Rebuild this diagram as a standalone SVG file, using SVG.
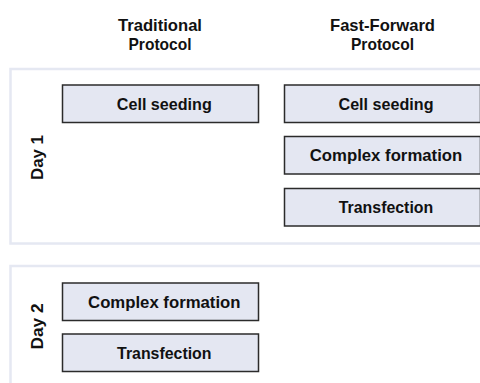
<svg xmlns="http://www.w3.org/2000/svg" width="480" height="383" viewBox="0 0 480 383">
  <style>
    .panel { fill: #ffffff; stroke: #e5e8f2; stroke-width: 2.5; }
    .step rect { fill: #e4e7f2; stroke: #2b2b2b; stroke-width: 1.5; }
    text { font-family: "Liberation Sans", Arial, sans-serif; font-weight: bold; font-size: 17px; fill: #111111; }
    .c { text-anchor: middle; }
  </style>
  <rect width="480" height="383" fill="#ffffff"/>

  <!-- column headings -->
  <g id="head-traditional">
    <text class="c" x="160" y="30.5" textLength="84" lengthAdjust="spacingAndGlyphs">Traditional</text>
    <text class="c" x="160" y="50" textLength="63" lengthAdjust="spacingAndGlyphs">Protocol</text>
  </g>
  <g id="head-fastforward">
    <text class="c" x="382.5" y="30.5" textLength="105" lengthAdjust="spacingAndGlyphs">Fast-Forward</text>
    <text class="c" x="382.5" y="50" textLength="63" lengthAdjust="spacingAndGlyphs">Protocol</text>
  </g>

  <!-- day panels -->
  <g id="day1">
    <rect class="panel" x="10.5" y="69" width="480" height="174.5"/>
    <text class="c" transform="translate(42.5,157.5) rotate(-90)" textLength="45" lengthAdjust="spacingAndGlyphs">Day 1</text>
  </g>
  <g id="day2">
    <rect class="panel" x="10.5" y="266" width="480" height="130"/>
    <text class="c" transform="translate(42.5,326.5) rotate(-90)" textLength="46" lengthAdjust="spacingAndGlyphs">Day 2</text>
  </g>

  <!-- traditional protocol steps -->
  <g id="trad-seeding" class="step">
    <rect x="62.5" y="85" width="196" height="37.5"/>
    <text class="c" x="164.3" y="109.5" textLength="95" lengthAdjust="spacingAndGlyphs">Cell seeding</text>
  </g>
  <g id="trad-complex" class="step">
    <rect x="62.5" y="283" width="196" height="37.5"/>
    <text class="c" x="164.3" y="307.5" textLength="152.5" lengthAdjust="spacingAndGlyphs">Complex formation</text>
  </g>
  <g id="trad-transfection" class="step">
    <rect x="62.5" y="334" width="196" height="37.5"/>
    <text class="c" x="164.3" y="358.5" textLength="94.5" lengthAdjust="spacingAndGlyphs">Transfection</text>
  </g>

  <!-- fast-forward protocol steps -->
  <g id="ff-seeding" class="step">
    <rect x="284.5" y="85" width="196" height="37.5"/>
    <text class="c" x="386" y="109.5" textLength="95" lengthAdjust="spacingAndGlyphs">Cell seeding</text>
  </g>
  <g id="ff-complex" class="step">
    <rect x="284.5" y="136.5" width="196" height="37.5"/>
    <text class="c" x="386" y="161" textLength="152.5" lengthAdjust="spacingAndGlyphs">Complex formation</text>
  </g>
  <g id="ff-transfection" class="step">
    <rect x="284.5" y="188.5" width="196" height="37.5"/>
    <text class="c" x="386" y="213" textLength="94.5" lengthAdjust="spacingAndGlyphs">Transfection</text>
  </g>

  <g id="connectors"/>
</svg>
